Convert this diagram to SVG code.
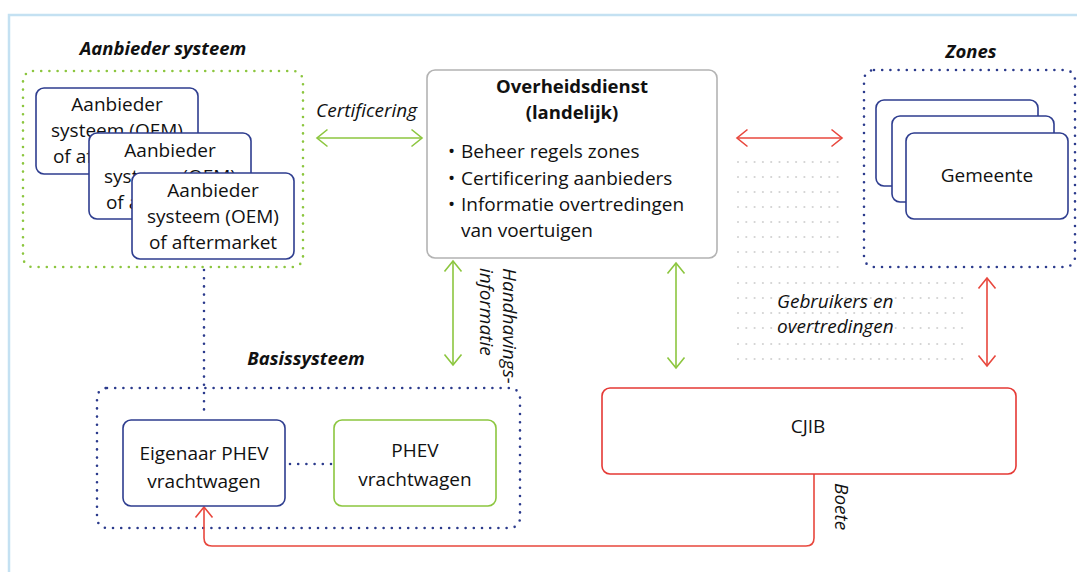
<svg xmlns="http://www.w3.org/2000/svg" width="1077" height="572" viewBox="0 0 1077 572">
<style>
  text { font-family: "Open Sans", "Liberation Sans", sans-serif; fill: #111; }
  .t { font-size: 19px; text-anchor: middle; }
  .tl { font-size: 19px; }
  .title { font-size: 18.5px; font-weight: bold; font-style: italic; text-anchor: middle; }
  .bold { font-size: 18.5px; font-weight: bold; text-anchor: middle; }
  .lab { font-size: 19px; font-style: italic; }
  .navybox { fill: #fff; stroke: #2e3d8f; stroke-width: 1.6; }
  .greenbox { fill: #fff; stroke: #8cc63f; stroke-width: 1.6; }
  .redbox { fill: #fff; stroke: #e53935; stroke-width: 1.6; }
  .graybox { fill: #fff; stroke: #b3b3b3; stroke-width: 1.6; }
  .dotnavy { fill: none; stroke: #2b3a8c; stroke-width: 2.6; stroke-linecap: round; stroke-dasharray: 0 8.2; }
  .dotgreen { fill: none; stroke: #8cc63f; stroke-width: 2.6; stroke-linecap: round; stroke-dasharray: 0 8.2; }
  .grid { fill: none; stroke: #d3d3d3; stroke-width: 2.2; stroke-linecap: round; stroke-dasharray: 0 8.3; }
  .ga { fill: none; stroke: #8cc63f; stroke-width: 1.6; }
  .ra { fill: none; stroke: #e8473d; stroke-width: 1.6; }
</style>
<defs>
  <marker id="mg" markerUnits="userSpaceOnUse" viewBox="0 0 24 24" markerWidth="24" markerHeight="24" refX="12" refY="12" orient="auto-start-reverse">
    <path d="M1.5,3.5 L12,12 L1.5,20.5" fill="none" stroke="#8cc63f" stroke-width="1.6"/>
  </marker>
  <marker id="mr" markerUnits="userSpaceOnUse" viewBox="0 0 24 24" markerWidth="24" markerHeight="24" refX="12" refY="12" orient="auto-start-reverse">
    <path d="M1.5,3.5 L12,12 L1.5,20.5" fill="none" stroke="#e8473d" stroke-width="1.6"/>
  </marker>
</defs>

<!-- frame -->
<rect x="9" y="15" width="1100" height="600" fill="#fff" stroke="#c4e1f2" stroke-width="2.5"/>

<!-- background dot grid -->
<g id="grid">
  <path class="grid" d="M738,162 H843 M738,177 H843 M738,192 H843 M738,207 H843 M738,222 H843 M738,237 H843 M738,252 H843 M738,267 H843"/>
  <path class="grid" d="M738,283 H968 M738,298 H968 M738,313 H968 M738,328 H968 M738,344 H968 M738,359 H968"/>
</g>

<!-- group containers -->
<g id="aanbieder-systeem">
  <text class="title" x="163" y="55">Aanbieder systeem</text>
  <rect class="dotgreen" x="23" y="71" width="280" height="196" rx="10"/>
</g>
<g id="zones">
  <text class="title" x="971" y="58">Zones</text>
  <rect class="dotnavy" x="864" y="70" width="211" height="197" rx="10"/>
</g>
<g id="basissysteem">
  <text class="title" x="306" y="365">Basissysteem</text>
  <rect class="dotnavy" x="97" y="388" width="423" height="140" rx="10"/>
</g>

<!-- connectors -->
<g id="connectors">
  <line class="ga" x1="317" y1="138" x2="422" y2="138" marker-start="url(#mg)" marker-end="url(#mg)"/>
  <line class="ra" x1="737" y1="138" x2="842" y2="138" marker-start="url(#mr)" marker-end="url(#mr)"/>
  <line class="ga" x1="453" y1="261" x2="453" y2="365" marker-start="url(#mg)" marker-end="url(#mg)"/>
  <line class="ga" x1="676" y1="263" x2="676" y2="368" marker-start="url(#mg)" marker-end="url(#mg)"/>
  <line class="ra" x1="987" y1="278" x2="987" y2="366" marker-start="url(#mr)" marker-end="url(#mr)"/>
  <path class="dotnavy" d="M204,270 V416"/>
  <path class="dotnavy" d="M290,464 H331"/>
  <path class="ra" d="M814,474 V538 Q814,546 806,546 H212 Q204,546 204,538 V507" marker-end="url(#mr)"/>
  <text class="lab" x="316" y="117">Certificering</text>
  <text class="lab" transform="translate(503,268) rotate(90)">Handhavings-</text>
  <text class="lab" transform="translate(480,268) rotate(90)">informatie</text>
  <text class="lab" x="777" y="308">Gebruikers en</text>
  <text class="lab" x="777" y="333">overtredingen</text>
  <text class="lab" transform="translate(835,483) rotate(90)">Boete</text>
</g>

<!-- nodes -->
<g id="aanbieder-1">
  <rect class="navybox" x="36" y="88" width="162" height="86" rx="8"/>
  <text class="t" x="117" y="111">Aanbieder</text>
  <text class="t" x="117" y="137">systeem (OEM)</text>
  <text class="t" x="117" y="163">of aftermarket</text>
</g>
<g id="aanbieder-2">
  <rect class="navybox" x="89" y="133" width="162" height="86" rx="8"/>
  <text class="t" x="170" y="157">Aanbieder</text>
  <text class="t" x="170" y="183">systeem (OEM)</text>
  <text class="t" x="170" y="209">of aftermarket</text>
</g>
<g id="aanbieder-3">
  <rect class="navybox" x="132" y="173" width="162" height="86" rx="8"/>
  <text class="t" x="213" y="197">Aanbieder</text>
  <text class="t" x="213" y="223">systeem (OEM)</text>
  <text class="t" x="213" y="249">of aftermarket</text>
</g>

<g id="overheidsdienst">
  <rect class="graybox" x="427" y="70" width="290" height="188" rx="8"/>
  <text class="bold" x="572" y="93">Overheidsdienst</text>
  <text class="bold" x="572" y="119">(landelijk)</text>
  <text class="tl" x="448" y="158">•</text><text class="tl" x="461" y="158">Beheer regels zones</text>
  <text class="tl" x="448" y="185">•</text><text class="tl" x="461" y="185">Certificering aanbieders</text>
  <text class="tl" x="448" y="211">•</text><text class="tl" x="461" y="211">Informatie overtredingen</text>
  <text class="tl" x="461" y="237">van voertuigen</text>
</g>

<g id="gemeente-1">
  <rect class="navybox" x="876" y="100" width="162" height="86" rx="8"/>
</g>
<g id="gemeente-2">
  <rect class="navybox" x="892" y="116" width="162" height="86" rx="8"/>
</g>
<g id="gemeente-3">
  <rect class="navybox" x="906" y="133" width="162" height="86" rx="8"/>
  <text class="t" x="987" y="182">Gemeente</text>
</g>

<g id="eigenaar">
  <rect class="navybox" x="123" y="420" width="162" height="86" rx="8"/>
  <text class="t" x="204" y="460">Eigenaar PHEV</text>
  <text class="t" x="204" y="488">vrachtwagen</text>
</g>
<g id="phev">
  <rect class="greenbox" x="334" y="420" width="162" height="86" rx="8"/>
  <text class="t" x="415" y="457">PHEV</text>
  <text class="t" x="415" y="486">vrachtwagen</text>
</g>

<g id="cjib">
  <rect class="redbox" x="602" y="388" width="414" height="86" rx="8"/>
  <text class="t" x="808" y="433">CJIB</text>
</g>
</svg>
